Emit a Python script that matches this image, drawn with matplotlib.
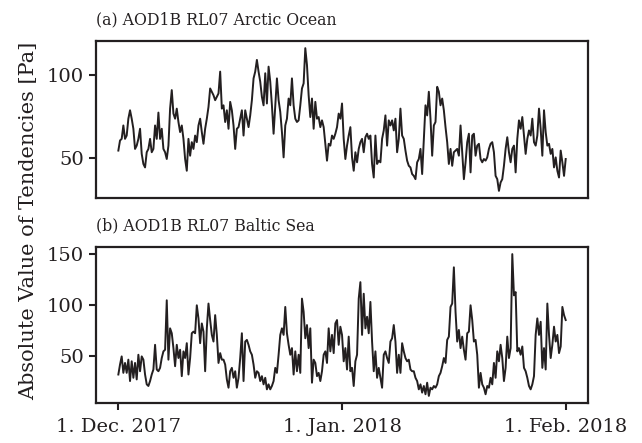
import numpy as np
import pandas as pd
import matplotlib
matplotlib.use("Agg")
import matplotlib.pyplot as plt
from matplotlib.ticker import MultipleLocator

# Absolute value of tendencies [Pa] (Dec 2017 - Jan 2018)
arctic = [
    54.5, 60.6, 61.6, 69.7, 61.6, 63.6, 73.8, 78.9, 73.8, 67.7, 55.5, 57.5, 61.6, 67.7, 52.5, 46.4,
    44.3, 53.5, 55.5, 61.6, 53.5, 55.5, 69.7, 61.6, 77.5, 61.6, 67.7, 55.5, 53.5, 49.4, 57.5, 79.9,
    91.1, 76.9, 73.8, 79.9, 71.8, 65.7, 69.7, 61.6, 49.4, 42.3, 61.6, 51.4, 59.6, 55.5, 63.6, 59.6,
    69.7, 73.8, 65.7, 58.6, 67.7, 73.8, 80.9, 92.1, 90.1, 88.0, 85.0, 87.0, 89.1, 102.3, 79.9, 81.9,
    71.8, 78.9, 67.7, 84.0, 78.9, 69.7, 55.5, 67.7, 68.7, 73.8, 78.9, 63.6, 78.9, 73.8, 68.7, 75.8,
    85.0, 98.2, 102.3, 109.4, 102.3, 96.2, 87.0, 81.9, 101.3, 83.0, 105.3, 96.2, 81.9, 64.7, 81.9, 98.2,
    85.0, 77.9, 65.7, 50.4, 69.7, 73.8, 86.0, 81.9, 98.2, 81.9, 73.8, 71.8, 72.8, 81.9, 92.1, 95.2,
    116.5, 106.3, 88.0, 74.8, 86.0, 67.7, 84.0, 73.8, 74.8, 68.7, 72.8, 68.7, 58.6, 48.4, 58.6, 57.5,
    63.6, 61.6, 64.7, 68.7, 76.9,
    73.8, 83.0, 61.6, 49.4, 57.5, 63.6, 68.7, 50.4, 42.3, 53.5, 47.4, 55.5, 59.6, 61.6, 53.5, 62.6,
    64.7, 61.6, 63.6, 46.4, 38.2, 63.6, 46.4, 48.4, 47.4, 61.6, 66.7, 75.8, 57.5, 72.8, 69.7, 72.8,
    66.7, 73.8, 53.5, 61.6, 79.9, 63.6, 61.6, 54.5, 48.4, 45.3, 44.3, 40.3, 39.2, 37.2, 47.4, 49.4,
    55.5, 40.3, 61.6, 81.9, 75.8, 90.1, 73.8, 51.4, 69.7, 71.8, 93.1, 90.1, 81.9, 86.0, 78.9, 68.7,
    59.6, 46.4, 55.5, 45.3, 53.5,
    54.5, 55.5, 51.4, 69.7, 53.5, 37.2, 47.4, 59.6, 64.7, 41.3, 63.6, 64.7, 51.4, 57.5, 58.6, 49.4,
    47.4, 49.4, 48.4, 50.4, 55.5, 58.6, 59.6, 53.5, 39.2, 37.2, 30.1, 35.2, 37.2, 45.3, 55.5, 62.6,
    53.5, 47.4, 55.5, 57.5, 41.3, 61.6, 72.8, 67.7, 74.8, 63.6, 52.5, 61.6, 66.7, 63.6, 73.8, 59.6,
    57.5, 63.6, 79.9, 67.7, 51.4, 78.9, 65.7, 57.5, 58.6, 52.5, 55.5, 44.3, 50.4, 42.3, 38.2, 54.5,
    47.4, 39.2, 49.4,
]

baltic = [
    32.4, 42.1, 50.1, 34.0, 43.7, 34.0, 46.9, 26.0, 45.3, 29.2, 43.7, 27.6, 51.7, 35.6, 50.1, 46.9,
    32.4, 22.8, 21.2, 26.0, 32.4, 37.3, 61.4, 37.3, 35.6, 38.9, 48.5, 55.0, 56.6, 104.9, 46.9, 77.5,
    72.7, 58.2, 40.5, 61.4, 48.5, 56.6, 30.8, 55.0, 48.5, 63.0, 32.4, 48.5, 72.7, 74.3, 72.7, 100.0,
    87.2, 63.0, 82.3, 74.3, 35.6, 77.5, 101.7, 85.6, 71.1, 64.6, 90.4, 71.1, 43.7, 53.3, 46.9, 46.9,
    42.1, 27.6, 19.5, 35.6, 38.9, 29.2, 35.6, 19.5, 29.2, 48.5, 72.7, 26.0, 64.6, 66.2, 61.4, 55.0,
    51.7, 42.1, 29.2, 35.6, 34.0, 26.0, 30.8, 22.8, 29.2, 17.9, 22.8, 17.9, 21.2, 26.0, 38.9, 34.0,
    51.7, 71.1, 77.5, 71.1, 98.4, 72.7, 61.4, 51.7, 58.2, 32.4, 55.0, 35.6, 51.7, 34.0, 106.5, 93.6,
    67.8, 80.7, 58.2, 77.5, 24.4, 46.9, 43.7, 30.8, 34.0, 26.0, 35.6, 51.7, 55.0, 43.7, 77.5, 55.0,
    71.1, 53.3, 82.3, 85.6, 61.4,
    79.1, 71.1, 45.3, 58.2, 37.3, 69.4, 35.6, 38.9, 21.2, 45.3, 51.7, 106.5, 122.6, 71.1, 111.3, 77.5,
    88.8, 72.7, 103.3, 64.6, 35.6, 55.0, 29.2, 38.9, 29.2, 19.5, 51.7, 55.0, 48.5, 43.7, 64.6, 67.8,
    80.7, 64.6, 34.0, 51.7, 34.0, 63.0, 55.0, 48.5, 45.3, 46.9, 37.3, 35.6, 35.6, 29.2, 26.0, 17.9,
    22.8, 14.7, 21.2, 13.1, 24.4, 11.5, 19.5, 17.9, 21.2, 19.5, 22.8, 30.8, 34.0, 40.5, 48.5, 43.7,
    66.2, 69.4, 98.4, 101.7, 137.1,
    93.6, 64.6, 75.9, 58.2, 69.4, 56.6, 46.9, 72.7, 74.3, 100.0, 85.6, 64.6, 66.2, 51.7, 19.5, 34.0,
    22.8, 19.5, 13.1, 21.2, 19.5, 29.2, 22.8, 43.7, 29.2, 55.0, 45.3, 61.4, 48.5, 26.0, 38.9, 69.4,
    48.5, 58.2, 150.0, 109.7, 112.9, 55.0, 58.2, 51.7, 59.8, 38.9, 35.6, 29.2, 21.2, 17.9, 22.8, 30.8,
    71.1, 87.2, 71.1, 83.9, 38.9, 58.2, 37.3, 101.7, 71.1, 48.5, 61.4, 79.1, 64.6, 71.1, 53.3, 59.8,
    98.4, 90.4, 85.6,
]

panel_titles = ["(a) AOD1B RL07 Arctic Ocean", "(b) AOD1B RL07 Baltic Sea"]
tick_dates = ["2017-12-01", "2018-01-01", "2018-02-01"]
tick_labels = ["1. Dec. 2017", "1. Jan. 2018", "1. Feb. 2018"]

time = pd.date_range("2017-12-01", "2018-02-01", periods=len(arctic))

plt.rcParams["font.family"] = ["DejaVu Serif"]
ink = "#231f20"

fig = plt.figure(figsize=(6.42, 4.43), dpi=100)
ax1 = fig.add_axes([0.1495, 0.553, 0.7665, 0.3544])
ax2 = fig.add_axes([0.1495, 0.0903, 0.7665, 0.3521], sharex=ax1)

for ax, vals, title in zip([ax1, ax2], [arctic, baltic], panel_titles):
    ax.plot(time, vals, color=ink, lw=1.4)
    ax.set_title(title, loc="left", fontsize=11.3, color=ink, pad=12)
    ax.yaxis.set_major_locator(MultipleLocator(50))
    ax.tick_params(axis="both", labelsize=14, colors=ink, width=1.5, length=5)
    for sp in ax.spines.values():
        sp.set_linewidth(1.6)
        sp.set_color(ink)

ax2.set_xticks(pd.to_datetime(tick_dates))
ax2.set_xticklabels(tick_labels)
ax2.tick_params(axis="x", pad=6)
ax1.tick_params(axis="x", bottom=False, labelbottom=False)

fig.text(0.045, 0.502, "Absolute Value of Tendencies [Pa]", rotation=90,
         va="center", ha="center", fontsize=15, color=ink)

fig.savefig("out.png", dpi=100)
